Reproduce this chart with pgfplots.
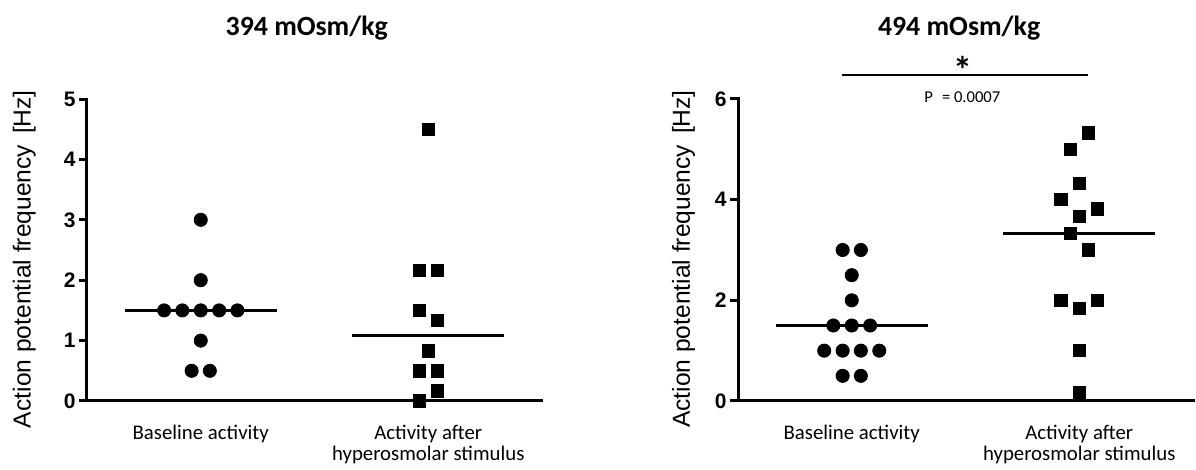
\documentclass[border=0pt]{standalone}
\usepackage{pgfplots}
\pgfplotsset{compat=1.18}
\usepackage{fontspec}
\setmainfont{Carlito}
\newfontfamily\arialf{Liberation Sans}

\pgfplotsset{
  myaxis/.style={
    scale only axis, width=227.5pt, height=151pt,
    xmin=0.5, xmax=2.5, ymin=0,
    enlargelimits=false,
    axis lines*=left,
    axis line style={line width=1.5pt, line cap=rect},
    xtick={1,2},
    xticklabels={{Baseline activity},{Activity after\\hyperosmolar stimulus}},
    xtick style={draw=none},
    xticklabel style={font=\fontsize{10.4}{10.6}\selectfont, align=center, anchor=north, yshift=-4.5pt},
    ytick style={line width=1.5pt, black},
    tick align=outside, major tick length=4pt,
    /pgf/number format/assume math mode=true,
    yticklabel style={font=\arialf\bfseries\fontsize{10.5}{10.5}\selectfont, inner sep=1.5pt},
    ylabel={Action potential frequency\hspace{0.45em}[Hz]},
    ylabel style={font=\arialf\fontsize{12.3}{12.3}\selectfont, anchor=center},
    clip=false,
  },
  circ/.style={only marks, mark=*, mark size=3.3pt, black},
  sq/.style={only marks, mark=square*, mark size=3.1pt, black},
  med/.style={no marks, black, line width=1.5pt},
}

\begin{document}
\begin{tikzpicture}
\path[use as bounding box] (0pt,0pt) rectangle (598pt,235pt);

% ---------------- left panel: 394 mOsm/kg
\begin{axis}[myaxis, at={(43.5pt,34.5pt)}, anchor=south west, ymax=5, ytick={0,1,2,3,4,5},
  ylabel style={at={(axis description cs:-0.138,0.47)}}]
\addplot[circ] coordinates {
 (1,3.0) (1,2.0)
 (0.839,1.5) (0.919,1.5) (1,1.5) (1.081,1.5) (1.161,1.5)
 (1,1.0) (0.960,0.5) (1.040,0.5)};
\addplot[sq] coordinates {
 (2,4.5) (1.960,2.16) (2.040,2.16) (1.960,1.5) (2.040,1.33)
 (2,0.83) (1.960,0.5) (2.040,0.5) (2.040,0.17) (1.960,0.0)};
\addplot[med] coordinates {(0.667,1.5) (1.333,1.5)};
\addplot[med] coordinates {(1.667,1.08) (2.333,1.08)};
\node[font=\bfseries\fontsize{13.9}{13.9}\selectfont, anchor=base] at (rel axis cs:0.483,1.209) {394 mOsm/kg};
\end{axis}

% ---------------- right panel: 494 mOsm/kg
\begin{axis}[myaxis, at={(369pt,34.5pt)}, anchor=south west, ymax=6, ytick={0,2,4,6},
  ylabel style={at={(axis description cs:-0.12,0.47)}}]
\addplot[circ] coordinates {
 (0.960,3.0) (1.040,3.0) (1,2.5) (1,2.0)
 (0.919,1.5) (1,1.5) (1.081,1.5)
 (0.879,1.0) (0.960,1.0) (1.040,1.0) (1.121,1.0)
 (0.960,0.5) (1.040,0.5)};
\addplot[sq] coordinates {
 (2.040,5.33) (1.960,5.0) (2,4.32) (1.919,4.0) (2.081,3.82) (2,3.67)
 (1.960,3.33) (2.040,3.0) (1.919,2.0) (2.081,2.0) (2,1.84) (2,1.0) (2,0.17)};
\addplot[med] coordinates {(0.667,1.5) (1.333,1.5)};
\addplot[med] coordinates {(1.667,3.33) (2.333,3.33)};
\addplot[no marks, black, line width=1.1pt] coordinates {(0.958,6.48) (2.037,6.48)};
\node[font=\bfseries\fontsize{19}{19}\selectfont, anchor=north, inner sep=0pt] at (axis cs:1.491,6.85) {*};
\node[font=\fontsize{8.3}{8.3}\selectfont, anchor=base, inner sep=0pt] at (axis cs:1.486,5.94) {P\hspace{0.55em}= 0.0007};
\node[font=\bfseries\fontsize{13.9}{13.9}\selectfont, anchor=base] at (rel axis cs:0.486,1.209) {494 mOsm/kg};
\end{axis}
\end{tikzpicture}
\end{document}
